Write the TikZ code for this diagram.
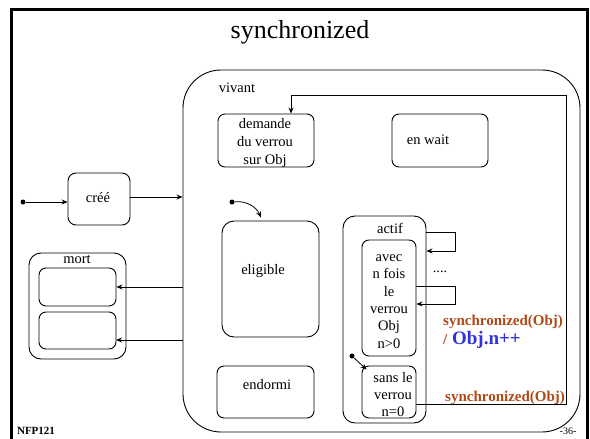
\documentclass[tikz,border=0pt]{standalone}
\usepackage{fontspec}
\setmainfont{Liberation Serif}
\usetikzlibrary{arrows.meta}
\definecolor{redbrown}{RGB}{176,72,24}
\definecolor{blueobj}{RGB}{50,50,220}
\begin{document}
\begin{tikzpicture}[x=1pt,y=-1pt,
  box/.style={draw, line width=0.9pt, inner sep=0pt, rounded corners=7pt},
  txt/.style={font=\fontsize{14.5}{18}\selectfont, inner sep=0pt, align=center},
  arr/.style={-{Stealth[length=6pt,width=5pt]}, line width=0.8pt},
  ln/.style={line width=0.8pt},
  dotn/.style={circle, fill, inner sep=0pt, minimum size=5pt},
  redtxt/.style={font=\fontsize{15}{18}\selectfont\bfseries, text=redbrown, inner sep=0pt}
]
\useasboundingbox (0,0) rectangle (590,439);
% slide frame
\draw[line width=3pt] (11,470) -- (11,9.5) -- (587.5,9.5) -- (587.5,470);
\node[font=\fontsize{26}{30}\selectfont, inner sep=0pt] (title) at (300,32) {synchronized};
\node[font=\fontsize{11}{13}\selectfont\bfseries, inner sep=0pt] (nfp) at (36,431) {NFP121};
\node[font=\fontsize{10}{12}\selectfont, inner sep=0pt] (page) at (568,431) {-36-};

% vivant
\node[box, rounded corners=38pt, minimum width=397pt, minimum height=362pt] (vivant) at (381.5,251) {};
\node[txt] (vivantl) at (237,88) {vivant};

% demande / en wait
\node[box, minimum width=96pt, minimum height=53pt] (dem) at (266,140.5) {};
\node[txt] (demt) at (265,143) {demande\\du verrou\\sur Obj};
\node[box, minimum width=96pt, minimum height=53pt] (wait) at (440,140.5) {};
\node[txt] (waitt) at (428,140) {en wait};

% cree
\node[box, rounded corners=8pt, minimum width=62pt, minimum height=52pt] (cree) at (99,199) {};
\node[txt] (creet) at (98,198) {créé};
\node[dotn] (d1) at (23,202) {};

% mort
\node[box, rounded corners=12pt, minimum width=97pt, minimum height=106pt] (mort) at (77.5,306) {};
\node[txt] (mortl) at (77,259) {mort};
\node[box, minimum width=77pt, minimum height=38pt] (m1) at (77.5,287) {};
\node[box, minimum width=77pt, minimum height=37pt] (m2) at (77.5,330.5) {};

% eligible / endormi
\node[box, rounded corners=12pt, minimum width=97pt, minimum height=116pt] (elig) at (270.5,279) {};
\node[txt] (eligt) at (263,271) {eligible};
\node[dotn] (d2) at (232,202) {};
\node[box, minimum width=97pt, minimum height=52pt] (endo) at (265.5,392) {};
\node[txt] (endot) at (267,385) {endormi};

% actif
\node[box, rounded corners=12pt, minimum width=83pt, minimum height=207pt] (actif) at (384.5,319.5) {};
\node[txt] (actifl) at (390,228) {actif};
\node[box, minimum width=54pt, minimum height=116pt] (avec) at (389,298) {};
\node[txt, font=\fontsize{14.5}{17.4}\selectfont] (avect) at (389,301.5) {avec\\n fois\\le\\verrou\\Obj\\n>0};
\node[box, minimum width=54pt, minimum height=52pt] (sans) at (389,392) {};
\node[txt, font=\fontsize{14.5}{17}\selectfont] (sanst) at (393,395) {sans le\\verrou\\n=0};
\node[dotn] (d3) at (352,356) {};

\node[txt] (dots) at (440,272) {....};
\node[redtxt, anchor=west] (s1) at (443,322) {synchronized(Obj)};
\node[anchor=west, inner sep=0pt, font=\fontsize{19}{22}\selectfont\bfseries] (s1b) at (443,340) {\textcolor{redbrown}{\fontsize{15}{18}\selectfont /} \textcolor{blueobj}{Obj.n++}};
\node[redtxt, anchor=west] (s2) at (445,398) {synchronized(Obj)};

% connectors
\draw[arr] (d1) -- (d1 -| cree.west);
\draw[arr] ([yshift=2pt]cree.east) -- ([yshift=2pt]cree.east -| vivant.west);
\draw[arr] (vivant.west |- m1.east) -- (m1.east);
\coordinate (m2a) at (116,340);
\draw[arr] (vivant.west |- m2a) -- (m2a);
\draw[arr] (d2) to[bend left=35] ([xshift=-9.5pt,yshift=3pt]elig.north);
\draw[arr] (d3) -- ([xshift=5pt,yshift=-4pt]sans.north west);

\coordinate (l1a) at (455,232);
\coordinate (l1b) at (455,251);
\draw[arr] (actif.east |- l1a) -- (l1a) -- (l1b) -- (actif.east |- l1b);
\coordinate (l2a) at (455,286);
\coordinate (l2b) at (455,304);
\draw[arr] (avec.east |- l2a) -- (l2a) -- (l2b) -- (avec.east |- l2b);

\coordinate (fa) at (566,404);
\coordinate (fb) at (566,95);
\coordinate (fc) at (291,95);
\draw[arr] (sans.east |- fa) -- (fa) -- (fb) -- (fc) -- (fc |- dem.north);
\end{tikzpicture}
\end{document}
